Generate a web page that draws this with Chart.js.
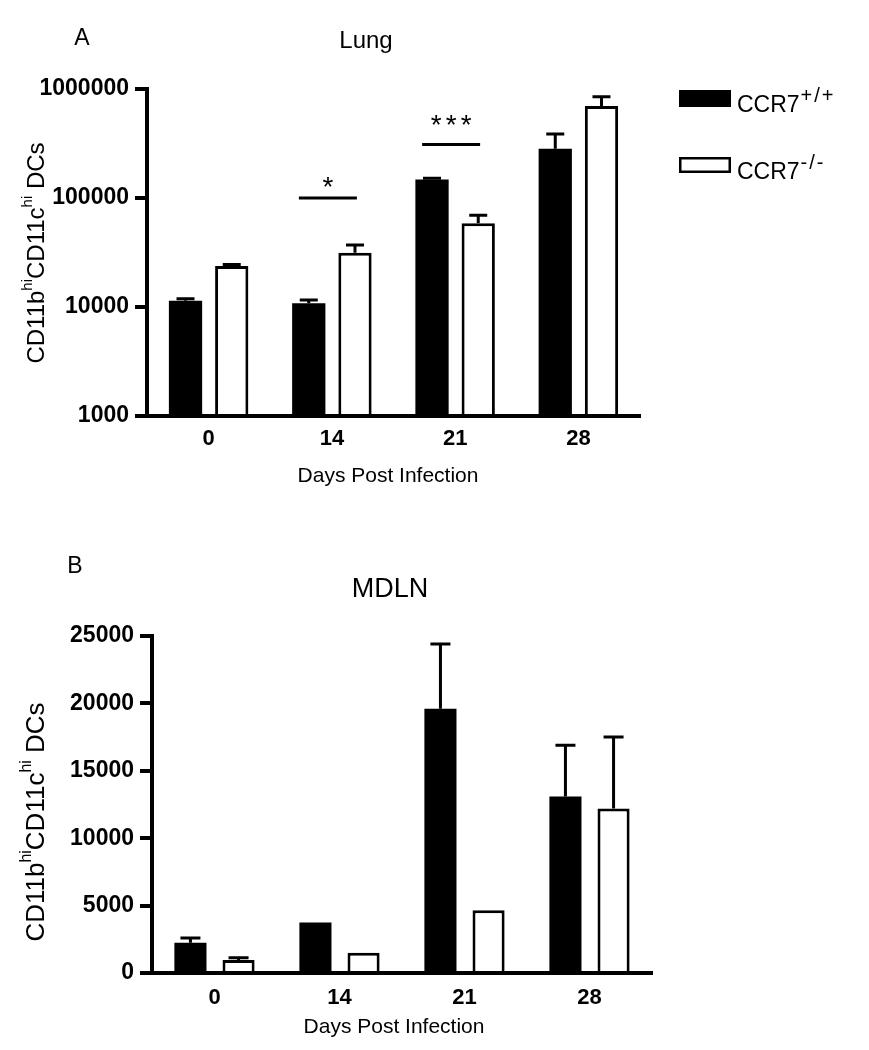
<!DOCTYPE html>
<html>
<head>
<meta charset="utf-8">
<script src="https://cdn.jsdelivr.net/npm/chart.js@4"></script>
<style>
  body { margin: 0; background: #fff; }
  #wrap { position: relative; width: 869px; height: 1050px; background: #fff; }
  canvas { position: absolute; left: 0; }
</style>
</head>
<body>
<div id="wrap">
  <canvas id="lung" width="869" height="520" style="top:0"></canvas>
  <canvas id="mdln" width="869" height="530" style="top:520px"></canvas>
</div>
<script>
// days post infection
const days = ['0', '14', '21', '28'];

// panel A - lung (log scale)
const lungWT = [11400, 10800, 148000, 283000];
const lungWTErr = [500, 800, 4000, 103000];
const lungKO = [23800, 31500, 58600, 698000];
const lungKOErr = [800, 5500, 10800, 152000];
const lungTicks = [1000, 10000, 100000, 1000000];

// significance marks over panel A
const sigLine = [null, 100000, 310000, null];
const sigStar = [null, 100000, 370000, null];
const sigText = ['', '*', '***', ''];

// panel B - MDLN (linear)
const mdlnWT = [2250, 3750, 19600, 13100];
const mdlnWTErr = [350, 0, 4800, 3800];
const mdlnKO = [970, 1500, 4650, 12200];
const mdlnKOErr = [170, 0, 0, 5300];
const mdlnTicks = [0, 5000, 10000, 15000, 20000, 25000];

const seriesNames = ['CCR7', 'CCR7'];
const seriesSup = ['+/+', '-/-'];

const FONT = '"Liberation Sans", Arial, sans-serif';

// upward error bars only, like the original figure
const errorBars = {
  id: 'errorBars',
  afterDatasetsDraw(chart, args, opts) {
    const ctx = chart.ctx;
    const yScale = chart.scales.y;
    ctx.save();
    ctx.strokeStyle = '#000';
    ctx.lineWidth = 3;
    chart.data.datasets.forEach((ds, di) => {
      const meta = chart.getDatasetMeta(di);
      meta.data.forEach((bar, i) => {
        const err = ds.err[i];
        if (!err) return;
        const yTop = yScale.getPixelForValue(ds.data[i] + err);
        ctx.beginPath();
        ctx.moveTo(bar.x, bar.y);
        ctx.lineTo(bar.x, yTop);
        ctx.moveTo(bar.x - opts.cap, yTop);
        ctx.lineTo(bar.x + opts.cap, yTop);
        ctx.stroke();
      });
    });
    ctx.restore();
  }
};

function drawYTitle(ctx, cx, cy, size) {
  const parts = [
    { t: 'CD11b' }, { t: 'hi', sup: true },
    { t: 'CD11c' }, { t: 'hi', sup: true },
    { t: ' DCs' }
  ];
  const supSize = Math.round(size * 0.62);
  let total = 0;
  parts.forEach(p => {
    ctx.font = (p.sup ? supSize : size) + 'px ' + FONT;
    p.w = ctx.measureText(p.t).width;
    total += p.w;
  });
  ctx.save();
  ctx.translate(cx, cy);
  ctx.rotate(-Math.PI / 2);
  ctx.fillStyle = '#000';
  ctx.textBaseline = 'alphabetic';
  ctx.textAlign = 'left';
  let x = -total / 2;
  parts.forEach(p => {
    ctx.font = (p.sup ? supSize : size) + 'px ' + FONT;
    ctx.fillText(p.t, x, p.sup ? -size * 0.5 : 0);
    x += p.w;
  });
  ctx.restore();
}

function text(ctx, str, x, y, size, weight, align) {
  ctx.font = (weight || '') + ' ' + size + 'px ' + FONT;
  ctx.textAlign = align || 'center';
  ctx.textBaseline = 'alphabetic';
  ctx.fillStyle = '#000';
  ctx.fillText(str, x, y);
}

const decor = {
  id: 'decor',
  afterDraw(chart, args, o) {
    const ctx = chart.ctx;
    ctx.save();
    text(ctx, o.letter, o.letterX, o.letterY, 23);
    text(ctx, o.title, o.titleX, o.titleY, o.titleSize);
    text(ctx, 'Days Post Infection', o.xTitleX, o.xTitleY, 21);
    drawYTitle(ctx, o.yTitleX, o.yTitleY, o.yTitleSize);

    if (o.legend) {
      seriesNames.forEach((name, i) => {
        const by = o.legend.y[i];
        if (i === 0) {
          ctx.fillStyle = '#000';
          ctx.fillRect(o.legend.x, by, 52, 17);
        } else {
          ctx.fillStyle = '#fff';
          ctx.strokeStyle = '#000';
          ctx.lineWidth = 2.5;
          ctx.fillRect(o.legend.x, by, 52, 16);
          ctx.strokeRect(o.legend.x + 1.25, by + 1.25, 49.5, 13.5);
        }
        const tx = o.legend.x + 58;
        const ty = by + 22;
        text(ctx, name, tx, ty, 23, '', 'left');
        ctx.font = '23px ' + FONT;
        let sx = tx + ctx.measureText(name).width + 1;
        for (const ch of seriesSup[i]) {
          text(ctx, ch, sx, ty - 10, 20, '', 'left');
          ctx.font = '20px ' + FONT;
          sx += ctx.measureText(ch).width + 2;
        }
      });
    }

    if (o.sig) {
      const xs = chart.scales.x, ys = chart.scales.y;
      ctx.strokeStyle = '#000';
      ctx.lineWidth = 3;
      sigText.forEach((s, i) => {
        if (!s) return;
        const cx = xs.getPixelForValue(i) - 4;
        const ly = ys.getPixelForValue(sigLine[i]);
        ctx.beginPath();
        ctx.moveTo(cx - 29, ly);
        ctx.lineTo(cx + 29, ly);
        ctx.stroke();
        const sy = ys.getPixelForValue(sigStar[i]) - 2;
        const n = s.length;
        for (let k = 0; k < n; k++) {
          text(ctx, '*', cx + (k - (n - 1) / 2) * 15, sy, 28);
        }
      });
    }
    ctx.restore();
  }
};

function makeChart(id, cfg) {
  return new Chart(document.getElementById(id), {
    type: 'bar',
    data: {
      labels: days,
      datasets: [
        {
          label: seriesNames[0] + seriesSup[0],
          data: cfg.wt,
          err: cfg.wtErr,
          backgroundColor: '#000',
          borderColor: '#000',
          borderWidth: 0,
          categoryPercentage: cfg.catPct,
          barPercentage: cfg.barPct
        },
        {
          label: seriesNames[1] + seriesSup[1],
          data: cfg.ko,
          err: cfg.koErr,
          backgroundColor: '#fff',
          borderColor: '#000',
          borderWidth: 3,
          borderSkipped: 'start',
          categoryPercentage: cfg.catPct,
          barPercentage: cfg.barPct
        }
      ]
    },
    options: {
      responsive: false,
      animation: false,
      layout: { padding: cfg.padding },
      plugins: {
        legend: { display: false },
        tooltip: { enabled: false },
        title: { display: false },
        errorBars: { cap: cfg.cap },
        decor: cfg.decor
      },
      scales: {
        x: {
          grid: { display: false, drawTicks: false },
          border: { display: true, width: 4, color: '#000', z: 1 },
          ticks: {
            color: '#000',
            padding: cfg.xPad,
            font: { family: FONT, size: 22, weight: 'bold' }
          },
          afterFit(scale) { scale.height = cfg.xHeight; }
        },
        y: {
          type: cfg.type,
          min: cfg.ticks[0],
          max: cfg.ticks[cfg.ticks.length - 1],
          grid: {
            drawOnChartArea: false,
            drawTicks: true,
            tickLength: 12,
            lineWidth: 4,
            color: '#000'
          },
          border: { display: true, width: 4, color: '#000', z: 1 },
          ticks: {
            color: '#000',
            padding: 6,
            font: { family: FONT, size: 23, weight: 'bold' },
            callback: v => String(v)
          },
          afterBuildTicks(scale) {
            scale.ticks = cfg.ticks.map(v => ({ value: v }));
          },
          afterFit(scale) { scale.width = cfg.yWidth; }
        }
      }
    },
    plugins: [errorBars, decor]
  });
}

makeChart('lung', {
  type: 'logarithmic',
  wt: lungWT, wtErr: lungWTErr,
  ko: lungKO, koErr: lungKOErr,
  ticks: lungTicks,
  catPct: 0.75, barPct: 0.72,
  cap: 9,
  padding: { top: 89, right: 229, left: 0, bottom: 0 },
  yWidth: 147, xHeight: 104, xPad: 10,
  decor: {
    letter: 'A', letterX: 82, letterY: 45,
    title: 'Lung', titleX: 366, titleY: 48, titleSize: 24,
    xTitleX: 388, xTitleY: 482,
    yTitleX: 44, yTitleY: 253, yTitleSize: 24,
    legend: { x: 679, y: [90, 157] },
    sig: true
  }
});

makeChart('mdln', {
  type: 'linear',
  wt: mdlnWT, wtErr: mdlnWTErr,
  ko: mdlnKO, koErr: mdlnKOErr,
  ticks: mdlnTicks,
  catPct: 0.77, barPct: 0.667,
  cap: 10,
  padding: { top: 116, right: 217, left: 0, bottom: 0 },
  yWidth: 152, xHeight: 77, xPad: 12,
  decor: {
    letter: 'B', letterX: 75, letterY: 53,
    title: 'MDLN', titleX: 390, titleY: 77, titleSize: 27,
    xTitleX: 394, xTitleY: 513,
    yTitleX: 44, yTitleY: 302, yTitleSize: 26,
    legend: null,
    sig: false
  }
});
</script>
</body>
</html>
